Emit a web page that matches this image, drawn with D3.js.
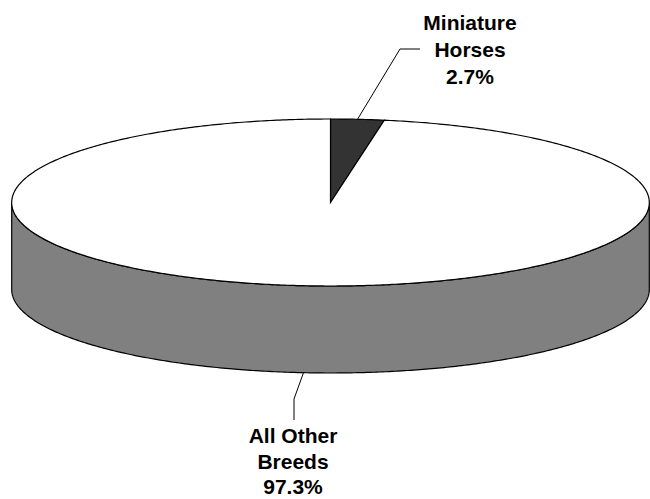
<!DOCTYPE html>
<html>
<head>
<meta charset="utf-8">
<script src="https://cdn.jsdelivr.net/npm/d3@7/dist/d3.min.js"></script>
<style>
html,body{margin:0;padding:0;background:#fff;}
svg{display:block;}
</style>
</head>
<body>
<svg id="chart" width="650" height="499"></svg>
<script>
// ---- data ----
const categories = ["Miniature Horses", "All Other Breeds"];
const values = [2.7, 97.3];
const labelLines = [["Miniature", "Horses", "2.7%"], ["All Other", "Breeds", "97.3%"]];
const topColors = ["#333333", "#ffffff"];
const sideColors = ["#1a1a1a", "#808080"];

// ---- layout ----
const W = 650, H = 499;
const cx = 330.5, cy = 202.5, rx = 318.8, ry = 83.5, depth = 87;

const svg = d3.select("#chart");

const data = categories.map((c, i) => ({ name: c, value: values[i], i }));
const pie = d3.pie().sort(null).value(d => d.value).startAngle(0).endAngle(2 * Math.PI);
const arcs = pie(data);

// angle measured clockwise from top
const px = a => cx + rx * Math.sin(a);
const py = a => cy - ry * Math.cos(a);

function arcPoints(a0, a1, dy) {
  const n = Math.max(2, Math.ceil(Math.abs(a1 - a0) / 0.01));
  return d3.range(n + 1).map(k => {
    const a = a0 + (a1 - a0) * k / n;
    return [px(a), py(a) + dy];
  });
}

const line = d3.line();

// sides (front half: angles between PI/2 and 3PI/2)
arcs.forEach(d => {
  const a0 = Math.max(d.startAngle, Math.PI / 2);
  const a1 = Math.min(d.endAngle, 3 * Math.PI / 2);
  if (a1 <= a0) return;
  const pts = arcPoints(a0, a1, 0).concat(arcPoints(a1, a0, depth));
  svg.append("path")
    .attr("d", line(pts) + "Z")
    .attr("fill", sideColors[d.data.i])
    .attr("stroke", "#000")
    .attr("stroke-width", 1.2)
    .attr("stroke-linejoin", "round");
});

// tops
arcs.forEach(d => {
  const pts = [[cx, cy]].concat(arcPoints(d.startAngle, d.endAngle, 0));
  svg.append("path")
    .attr("d", line(pts) + "Z")
    .attr("fill", topColors[d.data.i])
    .attr("stroke", "#000")
    .attr("stroke-width", 1.2)
    .attr("stroke-linejoin", "miter");
});

// labels & leader lines
const labelLayout = [
  { elbow: [400, 49], end: [420, 49], tx: 470, ty: 30, gap: 26.8, front: false },
  { elbow: [294, 399], end: [294, 420], tx: 293, ty: 443, gap: 25.5, front: true }
];

arcs.forEach((d, k) => {
  const L = labelLayout[k];
  const mid = (d.startAngle + d.endAngle) / 2;
  const start = [px(mid), py(mid) + (L.front ? depth : 0)];
  svg.append("path")
    .attr("d", line([start, L.elbow, L.end]))
    .attr("fill", "none")
    .attr("stroke", "#000")
    .attr("stroke-width", 1);
  const t = svg.append("text")
    .attr("text-anchor", "middle")
    .attr("font-family", "'Liberation Sans', Arial, Helvetica, sans-serif")
    .attr("font-weight", "bold")
    .attr("font-size", "21px")
    .attr("fill", "#000");
  labelLines[k].forEach((s, j) => {
    t.append("tspan").attr("x", L.tx).attr("y", L.ty + j * L.gap).text(s);
  });
});
</script>
</body>
</html>
